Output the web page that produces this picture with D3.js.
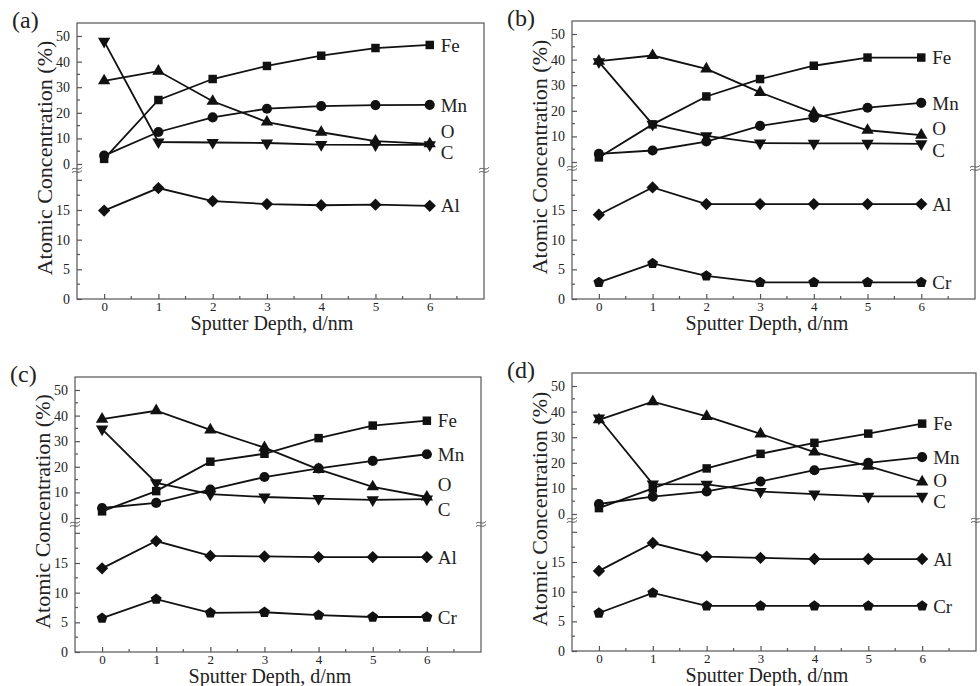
<!DOCTYPE html>
<html>
<head>
<meta charset="utf-8">
<script src="https://cdn.jsdelivr.net/npm/d3@7"></script>
<style>
  html, body { margin: 0; padding: 0; background: #fff; }
</style>
</head>
<body>
<svg id="chart" width="980" height="686"></svg>
<script>
// Sputter depth (nm)
const depths = [0, 1, 2, 3, 4, 5, 6];
const panelNames = ["(a)", "(b)", "(c)", "(d)"];

// Atomic concentration (%) per element, one row per panel (a)-(d)
const feValues = [
  [2.0, 25.0, 33.2, 38.3, 42.3, 45.3, 46.5],
  [1.8, 14.7, 25.6, 32.4, 37.6, 40.8, 40.8],
  [2.6, 10.5, 22.0, 25.1, 31.2, 36.1, 38.0],
  [2.3, 10.0, 17.8, 23.5, 27.8, 31.4, 35.3]
];
const mnValues = [
  [3.3, 12.5, 18.2, 21.6, 22.6, 23.0, 23.1],
  [3.2, 4.5, 8.0, 14.1, 17.3, 21.2, 23.1],
  [3.9, 5.9, 11.1, 16.0, 19.4, 22.3, 24.9],
  [3.9, 6.8, 8.8, 12.7, 17.1, 20.0, 22.2]
];
const oValues = [
  [32.5, 36.3, 24.5, 16.4, 12.4, 8.9, 7.9],
  [39.4, 41.6, 36.4, 27.2, 19.2, 12.4, 10.5],
  [38.6, 41.9, 34.4, 27.5, 19.0, 12.2, 8.2],
  [36.8, 43.9, 38.1, 31.3, 24.2, 18.7, 12.5]
];
const cValues = [
  [47.9, 8.6, 8.4, 8.2, 7.6, 7.5, 7.5],
  [39.1, 14.7, 10.2, 7.4, 7.3, 7.3, 7.1],
  [34.7, 13.7, 9.3, 8.2, 7.6, 7.1, 7.4],
  [37.5, 11.7, 11.6, 8.8, 7.8, 6.9, 6.9]
];
// Lower axis segment (below the break)
const alValues = [
  [14.9, 18.7, 16.5, 16.0, 15.8, 15.9, 15.7],
  [14.2, 18.8, 16.0, 16.0, 16.0, 16.0, 16.0],
  [14.1, 18.7, 16.2, 16.1, 16.0, 16.0, 16.0],
  [13.5, 18.2, 15.9, 15.7, 15.5, 15.5, 15.5]
];
const crValues = [
  null,
  [2.8, 6.0, 3.9, 2.8, 2.8, 2.8, 2.8],
  [5.7, 8.9, 6.6, 6.7, 6.2, 5.9, 5.9],
  [6.4, 9.8, 7.6, 7.6, 7.6, 7.6, 7.6]
];

// Tick values
const xTicks = [0, 1, 2, 3, 4, 5, 6];
const upperTickLabels = [0, 10, 20, 30, 40, 50];
const lowerTickLabels = [0, 5, 10, 15];

// Panel frames and label nudges (layout only)
const panelFrames = [
  { left: 77, top: 23, width: 407, height: 276 },
  { left: 572, top: 21, width: 403, height: 278 },
  { left: 75, top: 377, width: 406, height: 275 },
  { left: 572, top: 373, width: 404, height: 278 }
];
const oLabelShift = [5.0, 2.5, 4.8, 0.6];
const cLabelShift = [-2.9, -2.6, -4.0, -1.9];

const serifStack = "'Liberation Serif', 'Times New Roman', Times, Tinos, 'Nimbus Roman', FreeSerif, 'Noto Serif', 'DejaVu Serif', serif";

// Pentagon marker
const symbolPentagon = {
  draw(context, size) {
    const r = Math.sqrt(size / 2.3776);
    for (let i = 0; i < 5; i++) {
      const a = -Math.PI / 2 + i * 2 * Math.PI / 5;
      const px = r * Math.cos(a), py = r * Math.sin(a);
      if (i === 0) context.moveTo(px, py); else context.lineTo(px, py);
    }
    context.closePath();
  }
};

const svg = d3.select("#chart").style("font-family", serifStack);
const inkColor = "#111";
const frameColor = "#555";
const textColor = "#222";

panelFrames.forEach((f, p) => {
  const g = svg.append("g").attr("transform", `translate(${f.left},${f.top})`);
  const w = f.width, h = f.height;

  const x = d3.scaleLinear().domain([-0.5, 7.0]).range([0, w]);
  const yUp = d3.scaleLinear().domain([0, 50]).range([141, 13]);
  const yLow = d3.scaleLinear().domain([0, 15]).range([h, h - 89]);
  const breakY = 147;

  // Frame
  g.append("rect").attr("x", 0).attr("y", 0).attr("width", w).attr("height", h)
    .attr("fill", "none").attr("stroke", frameColor).attr("stroke-width", 1.2);

  // X axis: inward ticks, labels below
  const xMinor = d3.range(-0.5, 7.0, 0.5).filter(v => v > -0.5 && !Number.isInteger(v));
  const xAxis = d3.axisBottom(x).tickValues(xTicks).tickSize(-5).tickPadding(3)
    .tickFormat(d3.format("d"));
  const xg = g.append("g").attr("transform", `translate(0,${h})`).call(xAxis);
  xg.append("g").selectAll("line").data(xMinor).join("line")
    .attr("x1", d => x(d)).attr("x2", d => x(d)).attr("y1", 0).attr("y2", -3);

  // Upper y segment
  const upAxis = d3.axisLeft(yUp).tickValues(upperTickLabels).tickSize(-5).tickPadding(7)
    .tickFormat(d3.format("d"));
  const ug = g.append("g").call(upAxis);
  ug.append("g").selectAll("line").data([5, 15, 25, 35, 45]).join("line")
    .attr("x1", 0).attr("x2", 3).attr("y1", d => yUp(d)).attr("y2", d => yUp(d));

  // Lower y segment
  const lowAxis = d3.axisLeft(yLow).tickValues(lowerTickLabels).tickSize(-5).tickPadding(7)
    .tickFormat(d3.format("d"));
  const lg = g.append("g").call(lowAxis);
  lg.append("g").selectAll("line").data([20]).join("line")
    .attr("x1", 0).attr("x2", 5).attr("y1", d => yLow(d)).attr("y2", d => yLow(d));
  lg.append("g").selectAll("line").data([2.5, 7.5, 12.5, 17.5]).join("line")
    .attr("x1", 0).attr("x2", 3).attr("y1", d => yLow(d)).attr("y2", d => yLow(d));

  [xg, ug, lg].forEach(ax => {
    ax.attr("font-family", null).attr("font-size", 14);
    ax.select(".domain").remove();
    ax.selectAll("line").attr("stroke", frameColor).attr("stroke-width", 1.2);
    ax.selectAll("text").attr("fill", textColor);
  });
  xg.attr("font-size", 13);

  // Axis break marks on both sides
  [0, w].forEach(bx => {
    const bg = g.append("g").attr("transform", `translate(${bx},${breakY})`);
    [-1.6, 1.6].forEach(dy => {
      bg.append("path")
        .attr("d", `M-5,${dy + 1} C-2,${dy - 2} 1,${dy + 3} 5,${dy - 1}`)
        .attr("fill", "none").attr("stroke", frameColor).attr("stroke-width", 1);
    });
  });

  // Series for this panel
  const series = [
    { name: "Fe", vals: feValues[p], y: yUp, sym: d3.symbolSquare, size: 72, rot: 0 },
    { name: "Mn", vals: mnValues[p], y: yUp, sym: d3.symbolCircle, size: 80, rot: 0 },
    { name: "O", vals: oValues[p], y: yUp, sym: d3.symbolTriangle, size: 66, rot: 0, shift: oLabelShift[p] },
    { name: "C", vals: cValues[p], y: yUp, sym: d3.symbolTriangle, size: 66, rot: 180, shift: cLabelShift[p] },
    { name: "Al", vals: alValues[p], y: yLow, sym: d3.symbolSquare, size: 76, rot: 45 },
    { name: "Cr", vals: crValues[p], y: yLow, sym: symbolPentagon, size: 78, rot: 0 }
  ].filter(s => s.vals);

  const line = (s) => d3.line().x((d, i) => x(depths[i])).y(d => s.y(d))(s.vals);

  g.append("g").selectAll("path").data(series).join("path")
    .attr("d", line).attr("fill", "none").attr("stroke", inkColor).attr("stroke-width", 1.8);

  series.forEach(s => {
    g.append("g").selectAll("path").data(s.vals).join("path")
      .attr("d", d3.symbol().type(s.sym).size(s.size))
      .attr("transform", (d, i) => `translate(${x(depths[i])},${s.y(d)}) rotate(${s.rot})`)
      .attr("fill", inkColor);
  });

  // Element labels at the right end of each line
  g.append("g").selectAll("text").data(series).join("text")
    .attr("x", x(depths[depths.length - 1]) + 11)
    .attr("y", s => s.y(s.vals[s.vals.length - 1] + (s.shift || 0)))
    .attr("dy", "0.35em")
    .attr("font-size", 19).attr("fill", textColor)
    .text(s => s.name);

  // Axis titles
  g.append("text")
    .attr("transform", `translate(${-33},${h / 2 - 3}) rotate(-90)`)
    .attr("text-anchor", "middle").attr("dy", "0.35em")
    .attr("font-size", 22).attr("fill", textColor)
    .text("Atomic Concentration (%)");
  g.append("text")
    .attr("x", 195).attr("y", h + 31)
    .attr("text-anchor", "middle")
    .attr("font-size", 20).attr("fill", textColor)
    .text("Sputter Depth, d/nm");

  // Panel letter
  g.append("text")
    .attr("x", -65).attr("y", 5)
    .attr("font-size", 24).attr("fill", textColor)
    .text(panelNames[p]);
});
</script>
</body>
</html>
